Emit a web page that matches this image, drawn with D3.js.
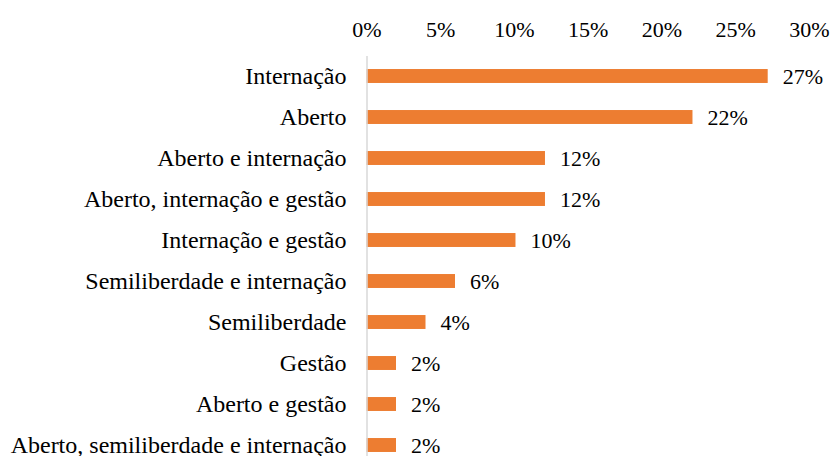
<!DOCTYPE html>
<html>
<head>
<meta charset="utf-8">
<script src="https://cdn.jsdelivr.net/npm/d3@7"></script>
<style>
  body { margin: 0; background: #fff; }
</style>
</head>
<body>
<div id="chart"></div>
<script>
const width = 832;
const height = 456;
const serif = "'Liberation Serif', 'Times New Roman', 'DejaVu Serif', serif";

// categories, top to bottom
const categories = [
  "Internação",
  "Aberto",
  "Aberto e internação",
  "Aberto, internação e gestão",
  "Internação e gestão",
  "Semiliberdade e internação",
  "Semiliberdade",
  "Gestão",
  "Aberto e gestão",
  "Aberto, semiliberdade e internação"
];

// share in percent
const values = [27.2, 22.1, 12.1, 12.1, 10.1, 6.0, 4.0, 2.0, 2.0, 2.0];

const tickValues = [0, 5, 10, 15, 20, 25, 30];

const svg = d3.select("#chart")
  .append("svg")
  .attr("width", width)
  .attr("height", height);

const x = d3.scaleLinear().domain([0, 30]).range([366.5, 809]);

const y = d3.scaleBand()
  .domain(categories)
  .range([55.5, 465.5])
  .paddingInner(0.66)
  .paddingOuter(0.33);

// top axis, labels only
const xAxis = svg.append("g")
  .attr("transform", "translate(0,45)")
  .call(d3.axisTop(x).tickValues(tickValues).tickSize(0).tickPadding(8)
    .tickFormat(d => d + "%"));
xAxis.attr("font-family", serif).attr("font-size", 22);
xAxis.select(".domain").remove();
xAxis.selectAll("text").attr("fill", "#000");

// bars
svg.selectAll("rect.bar")
  .data(values)
  .enter()
  .append("rect")
  .attr("class", "bar")
  .attr("x", x(0))
  .attr("y", (d, i) => y(categories[i]))
  .attr("width", d => x(d) - x(0))
  .attr("height", y.bandwidth())
  .attr("fill", "#ed7d31");

// left axis with category names
const yAxis = svg.append("g")
  .attr("transform", "translate(" + x(0) + ",0)")
  .call(d3.axisLeft(y).tickSize(0).tickPadding(20).tickSizeOuter(0));
yAxis.attr("font-family", serif).attr("font-size", 24);
yAxis.select(".domain").attr("stroke", "#d9d9d9").attr("stroke-width", 1.5);
yAxis.selectAll("text").attr("fill", "#000").attr("dy", "0.33em");

// value labels
svg.selectAll("text.val")
  .data(values)
  .enter()
  .append("text")
  .attr("class", "val")
  .attr("x", d => x(d) + 15)
  .attr("y", (d, i) => y(categories[i]) + y.bandwidth() / 2)
  .attr("dy", "0.38em")
  .attr("font-family", serif)
  .attr("font-size", 22)
  .text(d => Math.round(d) + "%");
</script>
</body>
</html>
